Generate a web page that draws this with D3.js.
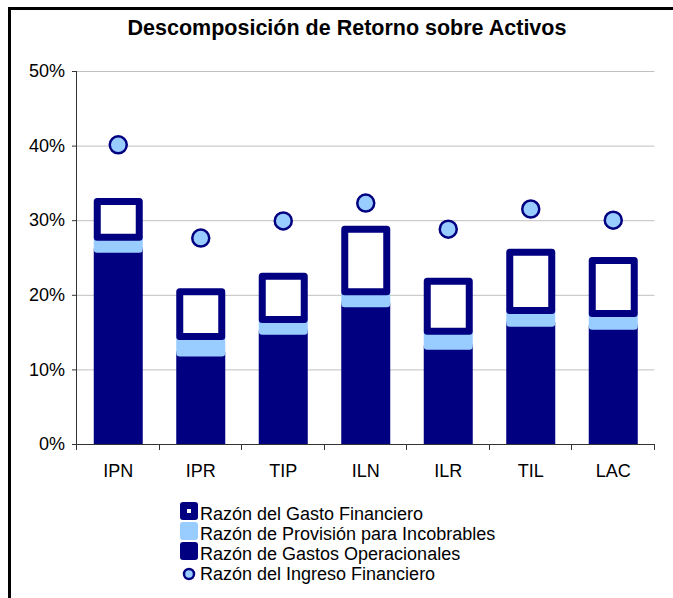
<!DOCTYPE html>
<html>
<head>
<meta charset="utf-8">
<script src="https://cdn.jsdelivr.net/npm/d3@7"></script>
<style>
  html, body { margin: 0; padding: 0; background: #fff; }
  svg { display: block; font-family: "Liberation Sans", Arial, sans-serif; }
</style>
</head>
<body>
<svg id="chart" width="673" height="598"></svg>
<script>
const categories = ["IPN", "IPR", "TIP", "ILN", "ILR", "TIL", "LAC"];
const gastosOperacionales = [26.1, 12.2, 15.1, 18.8, 13.1, 16.2, 15.8];
const provisionIncobrables = [1.6, 2.2, 1.6, 1.6, 2.0, 1.7, 1.7];
const gastoFinanciero = [4.8, 6.0, 5.8, 8.4, 6.7, 7.8, 7.1];
const ingresoFinanciero = [40.1, 27.6, 29.9, 32.3, 28.8, 31.5, 30.0];
const yTicks = [0, 10, 20, 30, 40, 50];
const seriesNames = ["Razón del Gasto Financiero", "Razón de Provisión para Incobrables", "Razón de Gastos Operacionales", "Razón del Ingreso Financiero"];
const chartTitle = "Descomposición de Retorno sobre Activos";

const NAVY = "#000080", LIGHT = "#99CCFF";
const svg = d3.select("#chart");

// frame (left + top border)
svg.append("line").attr("x1", 9.5).attr("x2", 673).attr("y1", 8.5).attr("y2", 8.5)
  .attr("stroke", "#000").attr("stroke-width", 3);
svg.append("line").attr("x1", 9.5).attr("x2", 9.5).attr("y1", 7).attr("y2", 598)
  .attr("stroke", "#000").attr("stroke-width", 3);

svg.append("text").attr("x", 347).attr("y", 35).attr("text-anchor", "middle")
  .attr("font-size", 21.5).attr("font-weight", "bold").text(chartTitle);

const pLeft = 77, pRight = 654.5, pTop = 71, pBottom = 444;
const x = d3.scaleBand().domain(categories).range([pLeft, pRight]).padding(0);
const y = d3.scaleLinear().domain([0, 50]).range([pBottom, pTop]);

// gridlines
svg.append("g").selectAll("line").data(yTicks.filter(d => d > 0)).join("line")
  .attr("x1", pLeft).attr("x2", pRight)
  .attr("y1", d => y(d) + 0.5).attr("y2", d => y(d) + 0.5)
  .attr("stroke", "#c0c0c0").attr("stroke-width", 1);

// stacked data
const rows = categories.map((c, i) => ({
  cat: c, op: gastosOperacionales[i], prov: provisionIncobrables[i], fin: gastoFinanciero[i]
}));
const stack = d3.stack().keys(["op", "prov", "fin"])(rows);

svg.append("clipPath").attr("id", "clip").append("rect")
  .attr("x", 0).attr("y", 0).attr("width", 673).attr("height", pBottom);

const barW = 42, sw = 7;
const styles = {
  op: { fill: NAVY, stroke: NAVY },
  prov: { fill: LIGHT, stroke: LIGHT },
  fin: { fill: "#fff", stroke: NAVY }
};
const gBars = svg.append("g").attr("clip-path", "url(#clip)");
stack.forEach(layer => {
  const st = styles[layer.key];
  gBars.append("g").selectAll("rect").data(layer).join("rect")
    .attr("x", d => x(d.data.cat) + x.bandwidth() / 2 - barW / 2)
    .attr("width", barW)
    .attr("y", d => y(d[1]))
    .attr("height", d => y(d[0]) - y(d[1]))
    .attr("fill", st.fill).attr("stroke", st.stroke)
    .attr("stroke-width", sw).attr("stroke-linejoin", "round");
});

// y axis
const yAxis = svg.append("g").attr("transform", `translate(${pLeft},0)`)
  .call(d3.axisLeft(y).tickValues(yTicks).tickFormat(d => d + "%").tickSize(5).tickPadding(7));
yAxis.select(".domain").attr("stroke", "#333").attr("d", `M-0.5,${pTop}V${pBottom}`);
yAxis.selectAll(".tick line").attr("stroke", "#333");
yAxis.selectAll("text").attr("font-size", 18).attr("fill", "#000")
  .attr("font-family", "Liberation Sans, Arial, sans-serif");

// x axis
const xAxis = svg.append("g").attr("transform", `translate(0,${pBottom})`)
  .call(d3.axisBottom(x).tickSize(0).tickPadding(20));
xAxis.select(".domain").attr("stroke", "#333").attr("d", `M${pLeft},0.5H${pRight}`);
xAxis.selectAll("text").attr("font-size", 18).attr("fill", "#000")
  .attr("font-family", "Liberation Sans, Arial, sans-serif");
const bounds = categories.map(c => x(c)).concat([x(categories[categories.length - 1]) + x.step()]);
xAxis.selectAll(".bt").data(bounds).join("line").attr("class", "bt")
  .attr("x1", d => Math.round(d) - 0.5).attr("x2", d => Math.round(d) - 0.5)
  .attr("y1", 0).attr("y2", 6).attr("stroke", "#333");

// markers
svg.append("g").selectAll("circle").data(ingresoFinanciero).join("circle")
  .attr("cx", (d, i) => x(categories[i]) + x.bandwidth() / 2)
  .attr("cy", d => y(d))
  .attr("r", 8.5).attr("fill", LIGHT).attr("stroke", NAVY).attr("stroke-width", 2.5);

// legend
const lg = svg.append("g");
const lx = 180, baselines = [520, 540, 560, 580];
seriesNames.forEach((name, i) => {
  const b = baselines[i];
  if (i === 0) {
    lg.append("rect").attr("x", lx).attr("y", b - 18).attr("width", 18).attr("height", 18)
      .attr("rx", 3).attr("fill", NAVY);
    lg.append("rect").attr("x", lx + 7).attr("y", b - 11).attr("width", 4).attr("height", 4).attr("fill", "#fff");
  } else if (i === 1) {
    lg.append("rect").attr("x", lx).attr("y", b - 18).attr("width", 18).attr("height", 18)
      .attr("rx", 3).attr("fill", LIGHT);
  } else if (i === 2) {
    lg.append("rect").attr("x", lx).attr("y", b - 18).attr("width", 18).attr("height", 18)
      .attr("rx", 3).attr("fill", NAVY);
  } else {
    lg.append("circle").attr("cx", lx + 9).attr("cy", b - 6).attr("r", 5)
      .attr("fill", LIGHT).attr("stroke", NAVY).attr("stroke-width", 2.5);
  }
  lg.append("text").attr("x", 200).attr("y", b).attr("font-size", 18).text(name);
});
</script>
</body>
</html>
